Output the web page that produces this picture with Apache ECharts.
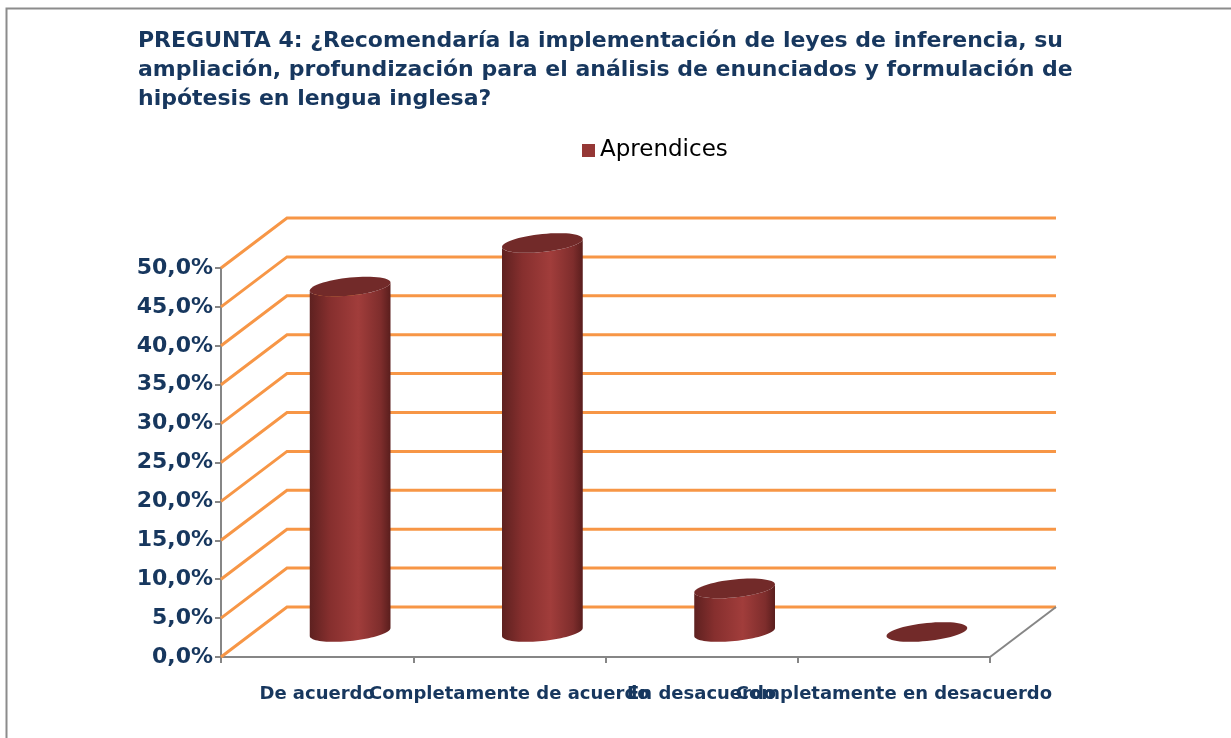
<!DOCTYPE html>
<html>
<head>
<meta charset="utf-8">
<script src="https://cdn.jsdelivr.net/npm/echarts@6/dist/echarts.min.js"></script>
<style>
  html, body { margin: 0; padding: 0; background: #fff; }
  #chart { width: 1231px; height: 738px; }
</style>
</head>
<body>
<div id="chart"></div>
<script>
var categorias = ['De acuerdo', 'Completamente de acuerdo', 'En desacuerdo', 'Completamente en desacuerdo'];
var aprendices = [44.4, 50.0, 5.6, 0.0];
var marcasY = [0, 5, 10, 15, 20, 25, 30, 35, 40, 45, 50];

var navy = '#17375e';
var naranja = '#f79646';
var gris = '#868686';
var fuente = 'DejaVu Sans';
// profundidad de la pared del fondo (pseudo 3D)
var fondoX = 66, fondoY = -50;

var chart = echarts.init(document.getElementById('chart'));

function elipse(cx, cy, rx, ry, k, t0, t1, n) {
    var pts = [];
    for (var j = 0; j <= n; j++) {
        var t = t0 + (t1 - t0) * j / n;
        pts.push([cx + rx * Math.cos(t), cy + ry * Math.sin(t) - k * rx * Math.cos(t)]);
    }
    return pts;
}

var option = {
    animation: false,
    title: {
        text: 'PREGUNTA 4: ¿Recomendaría la implementación de leyes de inferencia, su\nampliación, profundización para el análisis de enunciados y formulación de\nhipótesis en lengua inglesa?',
        left: 133,
        top: 22,
        textStyle: {
            fontFamily: fuente,
            fontSize: 22,
            fontWeight: 'bold',
            lineHeight: 29,
            color: navy
        }
    },
    legend: {
        data: ['Aprendices'],
        left: 577,
        top: 134,
        icon: 'rect',
        itemWidth: 13,
        itemHeight: 13,
        itemGap: 6,
        textStyle: { fontFamily: fuente, fontSize: 23, color: '#000' }
    },
    graphic: [{
        type: 'rect',
        shape: { x: 6.5, y: 8.5, width: 1300, height: 800 },
        style: { fill: 'none', stroke: '#8c8c8c', lineWidth: 2 },
        silent: true
    }],
    grid: { left: 221, top: 268, width: 769, height: 389 },
    xAxis: {
        type: 'category',
        data: categorias,
        axisLine: { lineStyle: { color: gris, width: 2 } },
        axisTick: { show: true, length: 6, lineStyle: { color: gris, width: 2 } },
        axisLabel: {
            interval: 0,
            margin: 28,
            color: navy,
            fontFamily: fuente,
            fontWeight: 'bold',
            fontSize: 18
        },
        splitLine: { show: false }
    },
    yAxis: {
        type: 'value',
        min: 0,
        max: 50,
        interval: 5,
        axisLine: { show: true, lineStyle: { color: gris, width: 2 } },
        axisTick: { show: true, length: 6, lineStyle: { color: gris, width: 2 } },
        axisLabel: {
            margin: 8,
            color: navy,
            fontFamily: fuente,
            fontWeight: 'bold',
            fontSize: 22,
            formatter: function (v) { return v.toFixed(1).replace('.', ',') + '%'; }
        },
        splitLine: { show: false }
    },
    series: [
        {
            // lineas de la pared del fondo
            type: 'custom',
            silent: true,
            data: marcasY.map(function (v) { return [0, v]; }),
            renderItem: function (params, api) {
                var cs = params.coordSys;
                var y = api.coord([0, api.value(1)])[1];
                var hijos = [{
                    type: 'polyline',
                    shape: { points: [[cs.x, y], [cs.x + fondoX, y + fondoY], [cs.x + cs.width + fondoX, y + fondoY]] },
                    style: { stroke: naranja, lineWidth: 3, fill: 'none' }
                }];
                if (api.value(1) === 0) {
                    hijos.push({
                        type: 'line',
                        shape: { x1: cs.x + cs.width, y1: y, x2: cs.x + cs.width + fondoX, y2: y + fondoY },
                        style: { stroke: gris, lineWidth: 2 }
                    });
                }
                return { type: 'group', children: hijos };
            },
            z: 1
        },
        {
            name: 'Aprendices',
            type: 'custom',
            itemStyle: { color: '#953735' },
            data: aprendices.map(function (v, i) { return [i, v]; }),
            renderItem: function (params, api) {
                var tope = api.coord([api.value(0), api.value(1)]);
                var base = api.coord([api.value(0), 0]);
                var cx = tope[0] + fondoX / 2;
                var yT = tope[1] + fondoY / 2;
                var yB = base[1] + fondoY / 2;
                var rx = api.size([1, 0])[0] * 0.21;
                var ry = 9, k = 0.1;
                var cuerpo = [[cx - rx, yT + k * rx]]
                    .concat(elipse(cx, yB, rx, ry, k, Math.PI, 0, 40))
                    .concat(elipse(cx, yT, rx, ry, k, 0, Math.PI, 40));
                return {
                    type: 'group',
                    children: [
                        {
                            type: 'polygon',
                            shape: { points: cuerpo },
                            style: {
                                fill: new echarts.graphic.LinearGradient(0, 0, 1, 0, [
                                    { offset: 0, color: '#5e2120' },
                                    { offset: 0.25, color: '#862f2e' },
                                    { offset: 0.6, color: '#a13d3b' },
                                    { offset: 0.88, color: '#7e2d2c' },
                                    { offset: 1, color: '#5a1e1d' }
                                ])
                            }
                        },
                        {
                            type: 'polygon',
                            shape: { points: elipse(cx, yT, rx, ry, k, 0, 2 * Math.PI, 60) },
                            style: { fill: '#722a29' }
                        }
                    ]
                };
            },
            z: 2
        }
    ]
};

chart.setOption(option);
</script>
</body>
</html>
